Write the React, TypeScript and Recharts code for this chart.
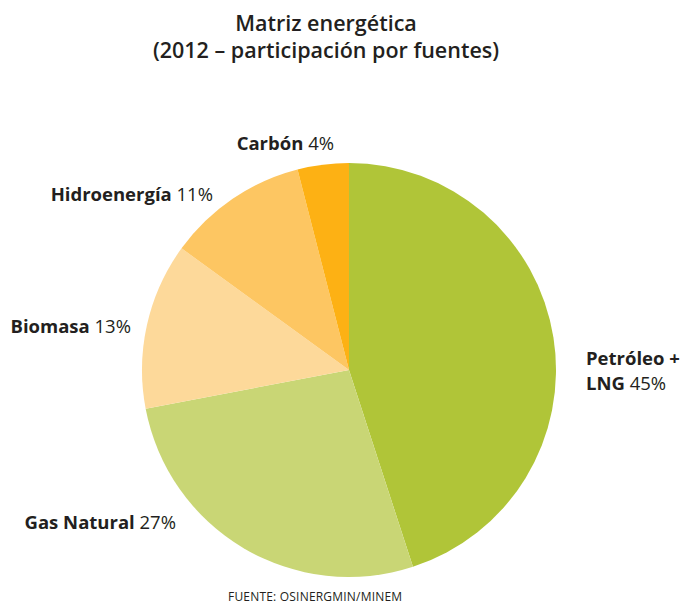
import { PieChart, Pie, Cell } from 'recharts'

const fuentes = ['Petróleo + LNG', 'Gas Natural', 'Biomasa', 'Hidroenergía', 'Carbón']
const participacion = [45, 27, 13, 11, 4]
const colores = ['#b0c538', '#c9d675', '#fdd99a', '#fdc662', '#fdb114']

const data = fuentes.map((name, i) => ({ name, value: participacion[i] }))

// where each label sits (x = right edge unless anchor start)
const labelLayout = [
  { x: 586, y: 365, anchor: 'start', lines: ['Petróleo +', 'LNG'] },
  { x: 176, y: 529, anchor: 'end', lines: ['Gas Natural'] },
  { x: 131, y: 333, anchor: 'end', lines: ['Biomasa'] },
  { x: 213, y: 201, anchor: 'end', lines: ['Hidroenergía'] },
  { x: 334, y: 150, anchor: 'end', lines: ['Carbón'] },
]

const FONT = '"Open Sans", "DejaVu Sans", sans-serif'

const renderLabel = (props: any) => {
  const pos = labelLayout[props.index]
  const pct = `${props.value}%`
  const last = pos.lines.length - 1
  return (
    <text
      key={`lbl-${props.index}`}
      x={pos.x}
      y={pos.y}
      textAnchor={pos.anchor}
      fill="#231f20"
      fontFamily={FONT}
      fontSize={18.5}
    >
      {pos.lines.map((ln, i) => (
        <tspan key={i} x={pos.x} dy={i === 0 ? 0 : 25}>
          <tspan fontWeight={700}>{ln}</tspan>
          {i === last ? <tspan fontWeight={400}> {pct}</tspan> : null}
        </tspan>
      ))}
    </text>
  )
}

export default function App() {
  return (
    <div style={{ position: 'absolute', left: 0, top: 0, width: 682, height: 604, background: '#fff', overflow: 'hidden' }}>
      <div
        style={{
          position: 'absolute',
          left: 0,
          top: 9,
          width: 652,
          textAlign: 'center',
          fontFamily: FONT,
          fontWeight: 600,
          fontSize: 21.5,
          lineHeight: '27px',
          color: '#231f20',
        }}
      >
        Matriz energética
        <br />
        (2012 – participación por fuentes)
      </div>
      <PieChart
        width={682}
        height={604}
        margin={{ top: 0, right: 0, bottom: 0, left: 0 }}
        style={{ position: 'absolute', left: 0, top: 0 }}
      >
        <Pie
          data={data}
          dataKey="value"
          nameKey="name"
          cx={349}
          cy={370}
          outerRadius={207}
          startAngle={90}
          endAngle={-270}
          stroke="none"
          labelLine={false}
          label={renderLabel}
          isAnimationActive={false}
        >
          {data.map((d, i) => (
            <Cell key={d.name} fill={colores[i]} />
          ))}
        </Pie>
      </PieChart>
      <div
        style={{
          position: 'absolute',
          left: 228,
          top: 590,
          fontFamily: FONT,
          fontSize: 12,
          lineHeight: '13px',
          color: '#231f20',
          letterSpacing: 0.2,
        }}
      >
        FUENTE: OSINERGMIN/MINEM
      </div>
    </div>
  )
}
